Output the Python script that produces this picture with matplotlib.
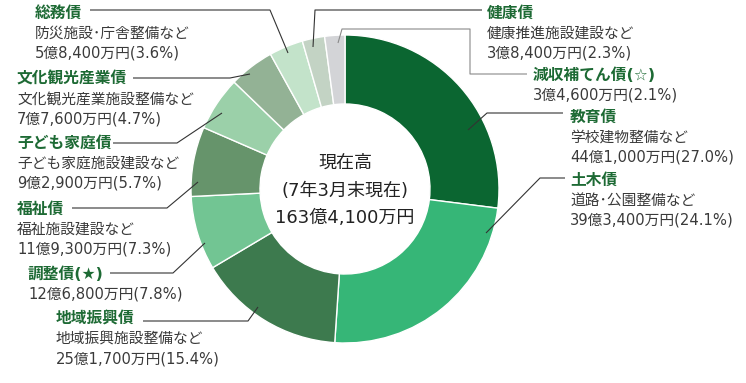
import matplotlib as mpl
import matplotlib.pyplot as plt

# DejaVu for digits/latin (wider, like the original), Noto CJK for kanji/kana
plt.rcParams['font.family'] = ['DejaVu Sans', 'Noto Sans CJK JP']

# data (amounts in 万円)
names = ['教育債', '土木債', '地域振興債', '調整債(★)', '福祉債',
         '子ども家庭債', '文化観光産業債', '総務債', '健康債', '減収補てん債(☆)']
descs = ['学校建物整備など', '道路･公園整備など', '地域振興施設整備など', None,
         '福祉施設建設など', '子ども家庭施設建設など', '文化観光産業施設整備など',
         '防災施設･庁舎整備など', '健康推進施設建設など', None]
amounts = [441000, 393400, 251700, 126800, 119300, 92900, 77600, 58400, 38400, 34600]
amount_labels = ['44億1,000万円', '39億3,400万円', '25億1,700万円', '12億6,800万円',
                 '11億9,300万円', '9億2,900万円', '7億7,600万円', '5億8,400万円',
                 '3億8,400万円', '3億4,600万円']
shares = [27.0, 24.1, 15.4, 7.8, 7.3, 5.7, 4.7, 3.6, 2.3, 2.1]
colors = ['#0b6631', '#36b677', '#3d7a4e', '#72c593', '#66946b',
          '#9bd0a9', '#93b295', '#c3e3ca', '#c3d3c4', '#d3d4d7']

center_lines = ['現在高', '(7年3月末現在)', '163億4,100万円']

# layout: text x, name y, leader line path (pixels)
label_xy = [(570, 117), (570, 180), (56, 319), (28, 274), (17, 209),
            (17, 143), (17, 79), (35, 13), (487, 13), (533, 75)]
leaders = [
    [(563, 113), (487, 113), (468, 130)],
    [(565, 178), (540, 178), (486, 233)],
    [(143, 321), (248, 321), (258, 307)],
    [(110, 273), (173, 273), (205, 243)],
    [(72, 208), (167, 208), (198, 182)],
    [(113, 143), (177, 143), (222, 113)],
    [(133, 78), (230, 78), (250, 74)],
    [(90, 10), (270, 10), (288, 53)],
    [(482, 10), (315, 10), (313, 47)],
    [(527, 74), (470, 74), (470, 29), (342, 29), (338, 43)],
]
leader_colors = ['#333333'] * 9 + ['#8a8a8a']

NAME_C = '#1d6a34'
TEXT_C = '#3a3a3a'

fig = plt.figure(figsize=(7.46, 3.83), dpi=100)
ax = fig.add_axes([0, 0, 1, 1])

# y axis is inverted below, so startangle=-90 / counterclock=True gives
# a visual start at 12 o'clock going clockwise
cx, cy, R = 345, 189, 154
ax.pie(amounts, colors=colors, startangle=-90, counterclock=True,
       center=(cx, cy), radius=R, frame=True,
       wedgeprops=dict(width=R - 85, edgecolor='white', linewidth=1.0))
ax.set_xlim(0, 746)
ax.set_ylim(383, 0)  # pixel-like coordinates, y down
ax.set_aspect('equal')
ax.axis('off')

for line, lc in zip(leaders, leader_colors):
    xs = [p[0] for p in line]
    ys = [p[1] for p in line]
    ax.plot(xs, ys, color=lc, lw=0.8, solid_capstyle='butt')

for i in range(len(names)):
    x, y = label_xy[i]
    ax.text(x, y, names[i], fontsize=11.3, fontweight='bold', color=NAME_C,
            ha='left', va='center')
    rows = []
    if descs[i]:
        rows.append(descs[i])
    rows.append('%s(%.1f%%)' % (amount_labels[i], shares[i]))
    for k, r in enumerate(rows):
        ax.text(x, y + 20 * (k + 1), r, fontsize=10.6, color=TEXT_C,
                ha='left', va='center')

for t, yy in zip(center_lines, [163, 191, 218]):
    ax.text(cx, yy, t, fontsize=13, color='#222222', ha='center', va='center')

fig.savefig('out.png', dpi=100, facecolor='white')
